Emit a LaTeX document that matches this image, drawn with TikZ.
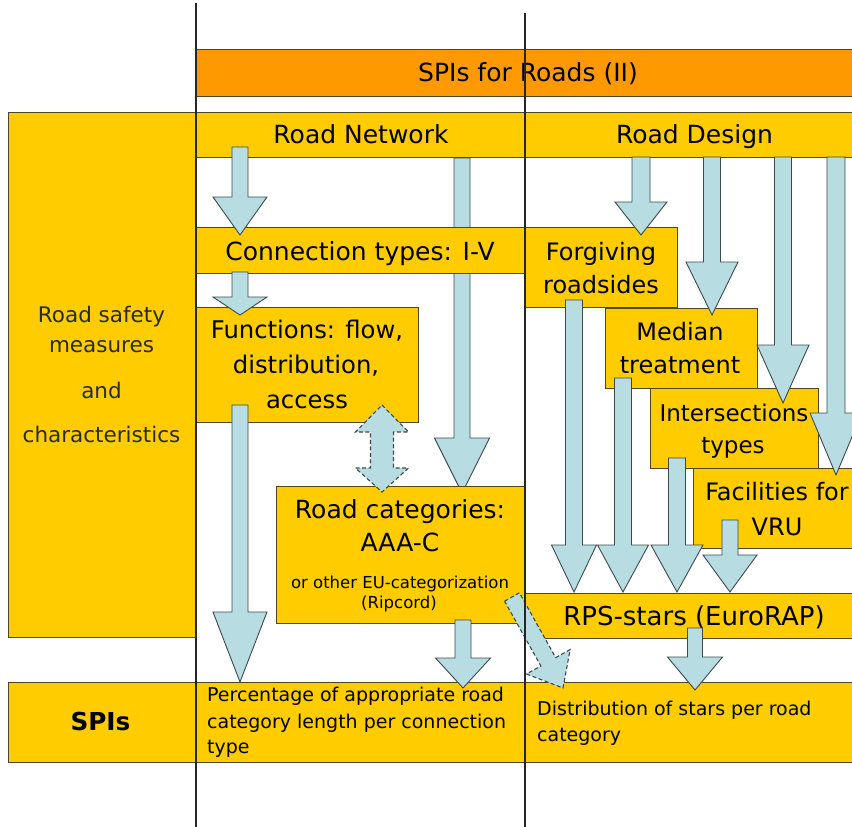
\documentclass[tikz,border=0pt]{standalone}
\usepackage{fontspec}
\setmainfont{DejaVu Sans}
\definecolor{yel}{HTML}{FFCC00}
\definecolor{org}{HTML}{FF9900}
\definecolor{ablue}{HTML}{B7DDE3}
\definecolor{aedge}{HTML}{3C4A4C}
\definecolor{bedge}{HTML}{4F4520}
\definecolor{ltext}{HTML}{2A2A2A}
\newcommand\fsz[1]{\fontsize{#1}{#1}\selectfont}
\newcommand\blockarrow[6]{\draw[arr] (#1-#5,#2) -- (#1+#5,#2) -- (#1+#5,#3) -- (#1+#6,#3) -- (#1,#4) -- (#1-#6,#3) -- (#1-#5,#3) -- cycle;}
\begin{document}
\begin{tikzpicture}[x=1pt,y=-1pt,
  boxn/.style={fill=yel,draw=bedge,line width=0.9pt,anchor=north west,inner sep=0pt,outer sep=0pt},
  hdrn/.style={boxn,fill=org},
  arr/.style={fill=ablue,draw=aedge,line width=0.9pt,line join=miter},
  darr/.style={arr,dash pattern=on 4pt off 2.5pt,line width=1.1pt},
  t/.style={inner sep=0pt,anchor=base},
  tl/.style={inner sep=0pt,anchor=base west},
  vline/.style={draw=black!85,line width=1.1pt}]
\useasboundingbox (0,0) rectangle (852,827);
\clip (0,0) rectangle (852,827);
\fill[white] (0,0) rectangle (852,827);
% boxes
\node[hdrn,minimum width=674pt,minimum height=47pt] (hdr) at (196,49) {};
\node[boxn,minimum width=188pt,minimum height=525pt] (lbox) at (8,112) {};
\node[boxn,minimum width=329pt,minimum height=45pt] (rnet) at (196,112) {};
\node[boxn,minimum width=345pt,minimum height=45pt] (rdes) at (525,112) {};
% long arrow behind the connection box
\blockarrow{462}{158}{438}{493}{8}{27.5}
\node[boxn,minimum width=329pt,minimum height=46pt] (conn) at (196,227) {};
\node[boxn,minimum width=222pt,minimum height=115pt] (func) at (196,307) {};
\node[boxn,minimum width=152pt,minimum height=80pt] (forg) at (525,227) {};
\node[boxn,minimum width=152pt,minimum height=80pt] (medi) at (605,308) {};
\node[boxn,minimum width=168pt,minimum height=80pt] (inter) at (650,388) {};
\node[boxn,minimum width=177pt,minimum height=80pt] (faci) at (693,468) {};
\node[boxn,minimum width=249pt,minimum height=137pt] (rcat) at (276,486) {};
\node[boxn,minimum width=345pt,minimum height=45pt] (rps) at (525,593) {};
\node[boxn,minimum width=862pt,minimum height=80pt] (spirow) at (8,682) {};
% texts
\node[t] (thdr) at (528,81.5) {\fsz{25}SPIs for Roads (II)};
\node[t] (trnet) at (361,143.5) {\fsz{25}Road Network};
\node[t] (trdes) at (694.5,143.5) {\fsz{25}Road Design};
\node[t,text=ltext] (tl1) at (101.5,322.8) {\fsz{21.5}Road safety};
\node[t,text=ltext] (tl2) at (101.5,352) {\fsz{21.5}measures};
\node[t,text=ltext] (tl3) at (101.5,398) {\fsz{21.5}and};
\node[t,text=ltext] (tl4) at (101.5,442) {\fsz{21.5}characteristics};
\node[t] (tconn) at (360,260) {\fsz{25}Connection types: I-V};
\node[t] (tf1) at (307,338.3) {\fsz{24.3}Functions: flow,};
\node[t] (tf2) at (306,373.3) {\fsz{24.3}distribution,};
\node[t] (tf3) at (307,408.3) {\fsz{24.3}access};
\node[t] (tr1) at (400,518.3) {\fsz{25}Road categories:};
\node[t] (tr2) at (400,551.7) {\fsz{25}AAA-C};
\node[t] (tr3) at (400,588.3) {\fsz{16.5}or other EU-categorization};
\node[t] (tr4) at (399,608.5) {\fsz{16.5}(Ripcord)};
\node[t] (tfo1) at (601,260) {\fsz{24}Forgiving};
\node[t] (tfo2) at (601,293.3) {\fsz{24}roadsides};
\node[t] (tme1) at (680,340) {\fsz{24}Median};
\node[t] (tme2) at (680,373.3) {\fsz{24}treatment};
\node[t] (tin1) at (734,421.7) {\fsz{23}Intersections};
\node[t] (tin2) at (733,453) {\fsz{23}types};
\node[t] (tfa1) at (777,500) {\fsz{24}Facilities for};
\node[t] (tfa2) at (777,535) {\fsz{24}VRU};
\node[t] (trps) at (694,625) {\fsz{26}RPS-stars (EuroRAP)};
\node[t] (tspi) at (100.5,730) {\fsz{24.7}\bfseries SPIs};
\node[tl] (tb1) at (207,701.7) {\fsz{19}Percentage of appropriate road};
\node[tl] (tb2) at (207,728.3) {\fsz{19}category length per connection};
\node[tl] (tb3) at (207,753) {\fsz{19}type};
\node[tl] (tc1) at (537,715) {\fsz{19}Distribution of stars per road};
\node[tl] (tc2) at (537,741.7) {\fsz{19}category};
% arrows
\blockarrow{240}{147}{197}{235}{8}{27}
\blockarrow{240}{272}{297}{315}{8}{27}
\blockarrow{240}{405}{612}{682}{8}{27}
\blockarrow{463}{620}{658}{688}{8}{27.5}
\blockarrow{641}{157}{202}{235}{9}{26}
\blockarrow{712}{157}{262}{315}{8.5}{26}
\blockarrow{783}{157}{345}{403}{8.5}{26}
\blockarrow{836}{157}{413}{475}{9}{26}
\blockarrow{574}{300}{545}{592}{8.5}{22.5}
\blockarrow{623}{378}{545}{592}{8.5}{25.5}
\blockarrow{677}{458}{545}{592}{8.5}{26}
\blockarrow{730}{520}{555}{592}{8}{27}
\blockarrow{695}{628}{657}{690}{7.5}{27.5}
% dashed arrows
\draw[darr] (382,405) -- (408.5,432) -- (393.5,432) -- (393.5,468) -- (408.5,468) -- (382,492) -- (355.5,468) -- (370.5,468) -- (370.5,432) -- (355.5,432) -- cycle;
\draw[darr] (504.6,601.2) -- (519.4,592.8) -- (555.7,657.6) -- (570.1,649.6) -- (563,688) -- (526.5,674.0) -- (540.9,666.0) -- cycle;
% vertical lines
\coordinate (v1t) at (196,3);
\coordinate (v1b) at (196,827);
\coordinate (v2t) at (525,13);
\coordinate (v2b) at (525,827);
\draw[vline] (v1t) -- (v1b);
\draw[vline] (v2t) -- (v2b);
\end{tikzpicture}
\end{document}
